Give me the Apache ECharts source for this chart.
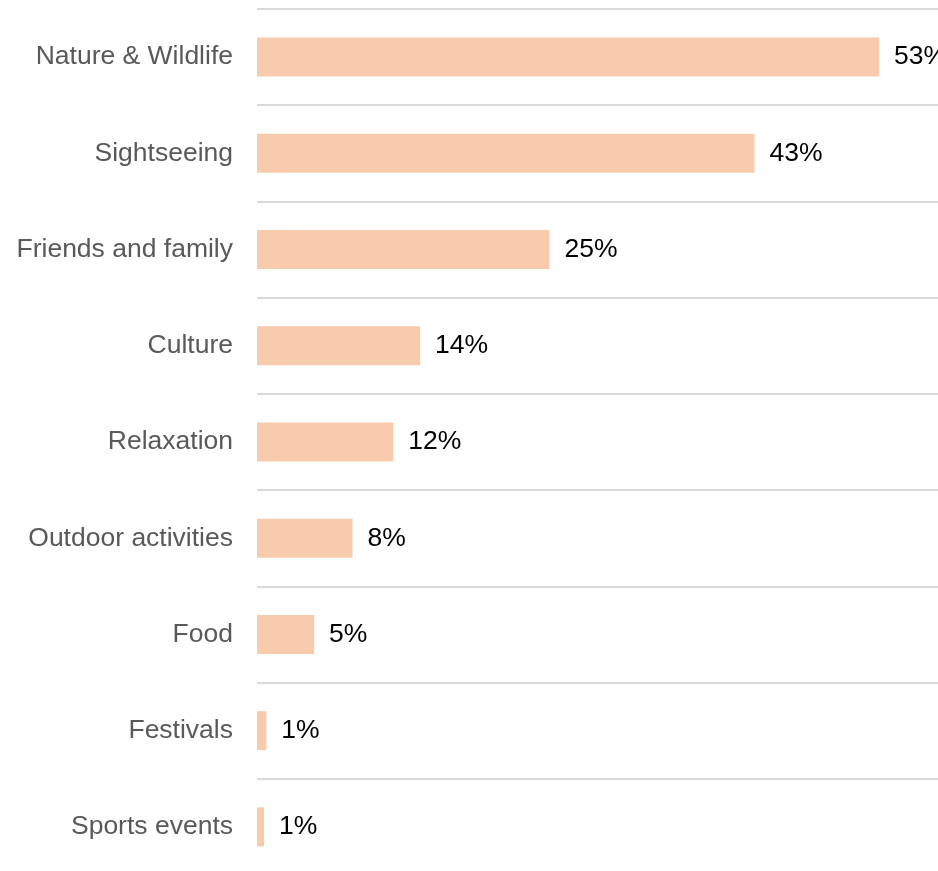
<!DOCTYPE html>
<html>
<head>
<meta charset="utf-8">
<title>Travel motives</title>
<script src="https://cdn.jsdelivr.net/npm/echarts@6/dist/echarts.min.js"></script>
<style>
  html, body { margin: 0; padding: 0; background: #fff; }
</style>
</head>
<body>
	<div id="main" style="width: 938px; height: 871px;"></div>

	<script type="text/javascript">
		// categories top to bottom
		var categories = ['Nature & Wildlife', 'Sightseeing', 'Friends and family', 'Culture',
		    'Relaxation', 'Outdoor activities', 'Food', 'Festivals', 'Sports events'];
		// shares in percent (labels show rounded values)
		var shares = [53.4, 42.7, 25.1, 14.0, 11.7, 8.2, 4.9, 0.8, 0.6];

		var myChart = echarts.init(document.getElementById('main'));

		var option = {
		    animation: false,
		    grid: {
		        left: 257,
		        top: 9,
		        width: 699,
		        height: 866,
		        outerBoundsMode: 'none'
		    },
		    xAxis: {
		        type: 'value',
		        min: 0,
		        max: 60,
		        show: false
		    },
		    yAxis: {
		        type: 'category',
		        inverse: true,
		        data: categories,
		        axisLine: { show: false },
		        axisTick: { show: false },
		        axisLabel: {
		            margin: 24,
		            fontSize: 26.5,
		            padding: [5, 0, 0, 0],
		            fontFamily: 'Liberation Sans, Arial, sans-serif',
		            color: '#595959'
		        },
		        splitLine: {
		            show: true,
		            interval: 0,
		            lineStyle: { color: '#d9d9d9', width: 2 }
		        }
		    },
		    series: [
		        {
		            type: 'bar',
		            data: shares,
		            barWidth: 39,
		            itemStyle: { color: '#F8CBAD' },
		            label: {
		                show: true,
		                position: 'right',
		                distance: 15,
		                fontSize: 26.5,
		                padding: [7, 0, 0, 0],
		                fontFamily: 'Liberation Sans, Arial, sans-serif',
		                color: '#000',
		                formatter: function (p) {
		                    return Math.round(p.value) + '%';
		                }
		            }
		        }
		    ]
		};

		myChart.setOption(option);
	</script>
</body>
</html>
